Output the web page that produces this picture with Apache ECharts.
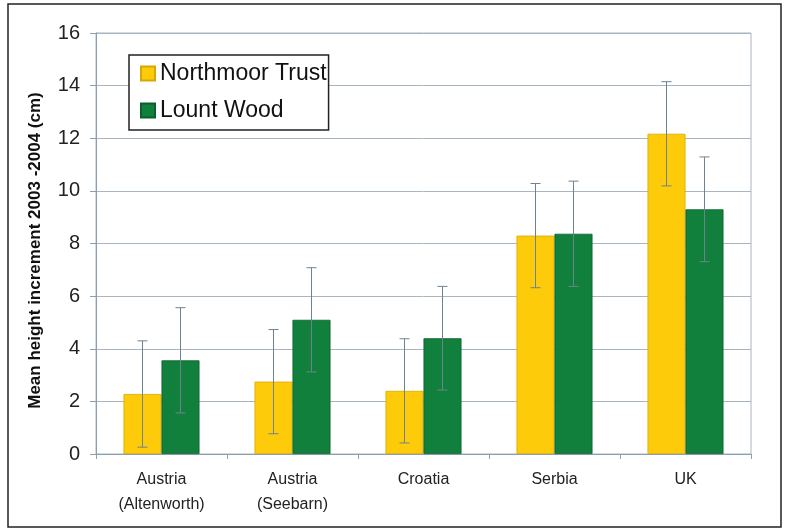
<!DOCTYPE html>
<html>
<head>
<meta charset="utf-8">
<script src="https://cdn.jsdelivr.net/npm/echarts@6/dist/echarts.min.js"></script>
<style>
  html, body { margin: 0; padding: 0; background: #fff; }
  #main { width: 786px; height: 528px; }
</style>
</head>
<body>
<div id="main"></div>
<script>
// data
var categories = ['Austria\n(Altenworth)', 'Austria\n(Seebarn)', 'Croatia', 'Serbia', 'UK'];
var northmoor = [2.28, 2.75, 2.4, 8.3, 12.17];
var northmoorErr = [2.02, 1.98, 1.98, 1.98, 1.98];
var lount = [3.56, 5.1, 4.4, 8.37, 9.3];
var lountErr = [2.0, 1.98, 1.97, 2.0, 1.99];
var yTicks = [0, 2, 4, 6, 8, 10, 12, 14, 16];

var YELLOW = '#fdcb0a';
var GREEN = '#10803c';

// error bar drawn through the library's coords
function errorSeries(vals, errs, side) {
  return {
    type: 'custom',
    z: 10,
    silent: true,
    data: vals.map(function (v, i) { return [i, v - errs[i], v + errs[i]]; }),
    encode: { x: 0, y: [1, 2] },
    renderItem: function (params, api) {
      var i = api.value(0);
      var lo = api.coord([i, api.value(1)]);
      var hi = api.coord([i, api.value(2)]);
      var band = api.size([1, 0])[0];
      var x = lo[0] + side * band * 0.145;
      var cap = 5;
      var st = { stroke: '#6f8291', lineWidth: 1, blend: 'multiply' };
      return {
        type: 'group',
        children: [
          { type: 'line', shape: { x1: x, y1: lo[1], x2: x, y2: hi[1] }, style: st },
          { type: 'line', shape: { x1: x - cap, y1: lo[1], x2: x + cap, y2: lo[1] }, style: st },
          { type: 'line', shape: { x1: x - cap, y1: hi[1], x2: x + cap, y2: hi[1] }, style: st }
        ]
      };
    }
  };
}

var chart = echarts.init(document.getElementById('main'));
chart.setOption({
  animation: false,
  backgroundColor: '#fff',
  graphic: [{
    type: 'rect',
    shape: { x: 8, y: 4, width: 773, height: 523 },
    style: { fill: 'none', stroke: '#222', lineWidth: 1.5 },
    silent: true
  }],
  grid: { left: 96, right: 35, top: 33, bottom: 74, show: true, borderColor: '#a9b6bf', borderWidth: 1 },
  legend: {
    orient: 'vertical',
    left: 129,
    top: 55,
    data: ['Northmoor Trust', 'Lount Wood'],
    icon: 'rect',
    itemWidth: 14,
    itemHeight: 14,
    itemGap: 14,
    padding: [7, 2, 8, 11],
    backgroundColor: '#fff',
    borderColor: '#222',
    borderWidth: 1.5,
    borderRadius: 0,
    textStyle: { fontFamily: 'Liberation Sans, Arial', fontSize: 23, color: '#111' }
  },
  xAxis: {
    type: 'category',
    data: categories,
    axisLine: { lineStyle: { color: '#8aa0ae', width: 1 } },
    axisTick: { show: true, alignWithLabel: false, length: 5, lineStyle: { color: '#8aa0ae' } },
    axisLabel: { fontFamily: 'Liberation Sans, Arial', fontSize: 16, color: '#222', lineHeight: 25, margin: 13 }
  },
  yAxis: {
    type: 'value',
    min: yTicks[0],
    max: yTicks[yTicks.length - 1],
    interval: 2,
    name: 'Mean height increment 2003 -2004 (cm)',
    nameLocation: 'middle',
    nameGap: 52,
    nameTextStyle: { fontFamily: 'Liberation Sans, Arial', fontSize: 17, fontWeight: 'bold', color: '#111', padding: [0, 14, 0, 0] },
    axisLine: { show: true, lineStyle: { color: '#8aa0ae', width: 1 } },
    axisTick: { show: true, length: 6, lineStyle: { color: '#8aa0ae' } },
    axisLabel: { fontFamily: 'Liberation Sans, Arial', fontSize: 20, color: '#222', margin: 16 },
    splitLine: { lineStyle: { color: '#a9b6bf', width: 1 } }
  },
  series: [
    {
      name: 'Northmoor Trust',
      type: 'bar',
      data: northmoor,
      barGap: '0%',
      barCategoryGap: '42%',
      itemStyle: { color: YELLOW, borderColor: '#d9a800', borderWidth: 0.8 }
    },
    {
      name: 'Lount Wood',
      type: 'bar',
      data: lount,
      itemStyle: { color: GREEN, borderColor: '#0b5f2c', borderWidth: 0.8 }
    },
    errorSeries(northmoor, northmoorErr, -1),
    errorSeries(lount, lountErr, 1)
  ]
});
</script>
</body>
</html>
